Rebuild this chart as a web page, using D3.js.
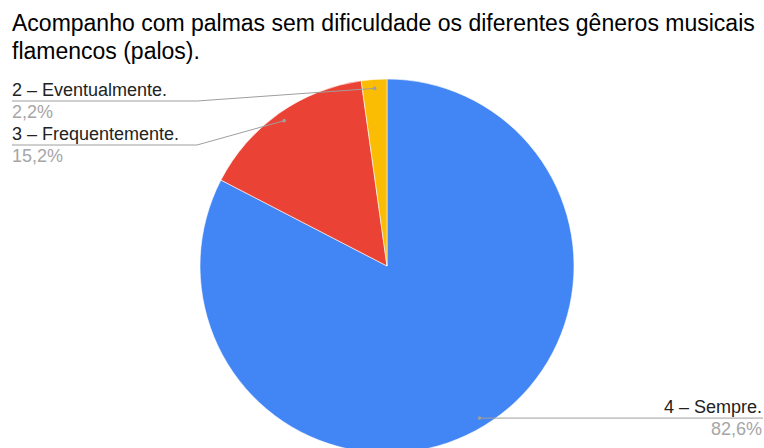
<!DOCTYPE html>
<html>
<head>
<meta charset="utf-8">
<script src="https://cdn.jsdelivr.net/npm/d3@7"></script>
<style>
  html, body { margin: 0; padding: 0; background: #fff; }
  svg { display: block; font-family: Arial, "Liberation Sans", sans-serif; }
</style>
</head>
<body>
<svg id="chart" width="764" height="448"></svg>
<script>
// Responses, in drawing order (clockwise from 12 o'clock)
const categories = ["4 – Sempre.", "3 – Frequentemente.", "2 – Eventualmente."];
const values = [82.6, 15.2, 2.2];
const percentLabels = ["82,6%", "15,2%", "2,2%"];
const colors = ["#4285F4", "#EA4335", "#FBBC04"];
const titleLines = [
  "Acompanho com palmas sem dificuldade os diferentes gêneros musicais",
  "flamencos (palos)."
];

const W = 764, H = 448;
const svg = d3.select("#chart");

// Title
svg.append("text")
  .attr("x", 12).attr("y", 31)
  .attr("font-size", 23).attr("fill", "#000")
  .selectAll("tspan").data(titleLines).join("tspan")
  .attr("x", 12).attr("dy", (d, i) => i === 0 ? 0 : 28)
  .text(d => d);

const cx = 387, cy = 266, R = 187;
const data = categories.map((c, i) => ({ cat: c, value: values[i], pct: percentLabels[i], color: colors[i] }));

const pie = d3.pie().value(d => d.value).sort(null);
const arcs = pie(data);
const arc = d3.arc().innerRadius(0).outerRadius(R);
const dotArc = d3.arc().innerRadius(R * 0.952).outerRadius(R * 0.952);

const g = svg.append("g").attr("transform", `translate(${cx},${cy})`);
g.selectAll("path.slice").data(arcs).join("path")
  .attr("class", "slice")
  .attr("d", arc)
  .attr("fill", d => d.data.color)
  .attr("stroke", "#fff").attr("stroke-width", 0.6);

// Label layout: side, elbow x, label line y
const labelLayout = {
  "4 – Sempre.": { side: "right", lineY: null, endX: 763 },
  "3 – Frequentemente.": { side: "left", lineY: 145, elbowX: 197, endX: 12 },
  "2 – Eventualmente.": { side: "left", lineY: 101, elbowX: 197, endX: 12 }
};

const lab = svg.append("g");
arcs.forEach(a => {
  const [dx, dy] = dotArc.centroid(a);
  const px = cx + dx, py = cy + dy;
  const L = labelLayout[a.data.cat];
  let pts, ty, anchor, tx;
  if (L.side === "right") {
    pts = [[px, py], [L.endX, py]];
    ty = py; anchor = "end"; tx = 762;
  } else {
    pts = [[px, py], [L.elbowX, L.lineY], [L.endX, L.lineY]];
    ty = L.lineY; anchor = "start"; tx = 12;
  }
  lab.append("path")
    .attr("d", d3.line()(pts))
    .attr("fill", "none").attr("stroke", "#9e9e9e").attr("stroke-width", 1);
  lab.append("circle").attr("cx", px).attr("cy", py).attr("r", 1.8).attr("fill", "#9e9e9e");
  lab.append("text")
    .attr("x", tx).attr("y", ty - 5)
    .attr("text-anchor", anchor)
    .attr("font-size", 18).attr("fill", "#222")
    .text(a.data.cat);
  lab.append("text")
    .attr("x", tx).attr("y", ty + 17)
    .attr("text-anchor", anchor)
    .attr("font-size", 18).attr("fill", "#a6a6a6")
    .text(a.data.pct);
});
</script>
</body>
</html>
